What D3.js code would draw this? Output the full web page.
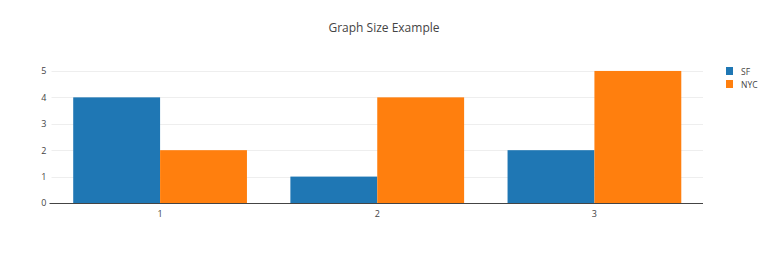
<!DOCTYPE html>
<html>
<head>
<meta charset="utf-8">
<script src="https://cdn.jsdelivr.net/npm/d3@7"></script>
<style>
  html, body { margin: 0; padding: 0; background: #fff; }
  svg { display: block; font-family: "Open Sans", "Noto Sans", sans-serif; }
</style>
</head>
<body>
<svg id="chart" width="768" height="254"></svg>
<script>
// Grouped bar data
const categories = ["1", "2", "3"];
const seriesNames = ["SF", "NYC"];
const sfValues = [4, 1, 2];
const nycValues = [2, 4, 5];
const yTicks = [0, 1, 2, 3, 4, 5];
const colors = ["#1f77b4", "#ff7f0e"];

const seriesValues = [sfValues, nycValues];
const W = 768, H = 254;
const plot = { left: 51.5, right: 703, top: 64, bottom: 203 };

const svg = d3.select("#chart");

const x0 = d3.scaleBand()
  .domain(categories)
  .range([plot.left, plot.right])
  .paddingInner(0.2)
  .paddingOuter(0.1);

const x1 = d3.scaleBand()
  .domain(seriesNames)
  .range([0, x0.bandwidth()]);

const y = d3.scaleLinear()
  .domain([0, 5 * 1.0526])
  .range([plot.bottom, plot.top]);

// Horizontal grid lines
svg.append("g")
  .selectAll("line")
  .data(yTicks.filter(t => t !== 0))
  .join("line")
  .attr("x1", plot.left)
  .attr("x2", plot.right)
  .attr("y1", d => Math.round(y(d)) + 0.5)
  .attr("y2", d => Math.round(y(d)) + 0.5)
  .attr("stroke", "#eeeeee")
  .attr("stroke-width", 1);

// Bars
const groups = svg.append("g")
  .selectAll("g")
  .data(categories)
  .join("g")
  .attr("transform", d => `translate(${x0(d)},0)`);

groups.selectAll("rect")
  .data((c, i) => seriesNames.map((s, k) => ({ s, k, v: seriesValues[k][i] })))
  .join("rect")
  .attr("x", d => x1(d.s))
  .attr("width", x1.bandwidth())
  .attr("y", d => y(d.v))
  .attr("height", d => y(0) - y(d.v))
  .attr("fill", d => colors[d.k]);

// Zero line
svg.append("line")
  .attr("x1", plot.left - 2)
  .attr("x2", plot.right)
  .attr("y1", Math.round(y(0)) + 0.5)
  .attr("y2", Math.round(y(0)) + 0.5)
  .attr("stroke", "#444")
  .attr("stroke-width", 1);

// Y axis labels
const yAxis = d3.axisLeft(y).tickValues(yTicks).tickFormat(d3.format("d")).tickSize(0).tickPadding(5);
svg.append("g")
  .attr("transform", `translate(${plot.left},0)`)
  .call(yAxis)
  .call(g => g.select(".domain").remove())
  .call(g => g.selectAll("text")
    .attr("fill", "#444")
    .style("font-size", "9px")
    .style("font-family", "'Open Sans', sans-serif"));

// X axis labels
const xAxis = d3.axisBottom(x0).tickSize(0).tickPadding(8);
svg.append("g")
  .attr("transform", `translate(0,${plot.bottom})`)
  .call(xAxis)
  .call(g => g.select(".domain").remove())
  .call(g => g.selectAll("text")
    .attr("fill", "#444")
    .style("font-size", "9px")
    .style("font-family", "'Open Sans', sans-serif"));

// Title
svg.append("text")
  .attr("x", W / 2)
  .attr("y", 32)
  .attr("text-anchor", "middle")
  .attr("fill", "#444")
  .style("font-size", "12px")
  .text("Graph Size Example");

// Legend
const legend = svg.append("g")
  .attr("transform", "translate(726,67)")
  .selectAll("g")
  .data(seriesNames)
  .join("g")
  .attr("transform", (d, i) => `translate(0,${i * 13})`);

legend.append("rect")
  .attr("width", 7)
  .attr("height", 8)
  .attr("fill", (d, i) => colors[i]);

legend.append("text")
  .attr("x", 15)
  .attr("y", 7.5)
  .attr("fill", "#444")
  .style("font-size", "8.5px")
  .text(d => d);
</script>
</body>
</html>
